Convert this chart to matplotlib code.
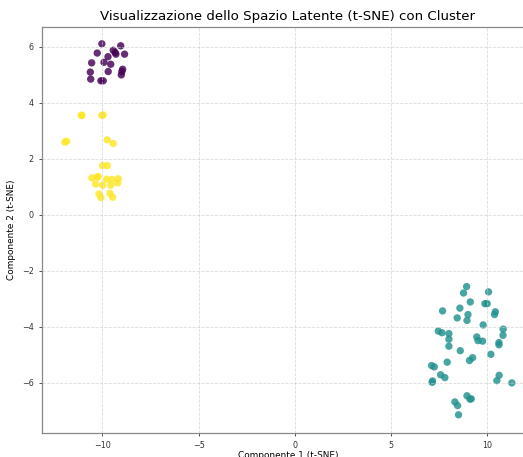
import numpy as np
import matplotlib
matplotlib.use("Agg")
import matplotlib.pyplot as plt

# t-SNE coordinates per cluster
c0_x = [-10.03, -9.05, -9.44, -9.34, -10.27, -8.85, -9.30, -9.71, -10.56, -9.92,
        -9.57, -8.95, -8.99, -9.02, -9.70, -10.63, -10.61, -10.08, -9.96]
c0_y = [6.11, 6.04, 5.88, 5.80, 5.78, 5.74, 5.74, 5.65, 5.43, 5.45,
        5.38, 5.20, 5.12, 5.00, 5.12, 5.10, 4.85, 4.79, 4.79]

c1_x = [8.92, 8.76, 10.06, 9.11, 7.67, 8.57, 9.87, 9.99, 8.99, 8.43,
        8.94, 10.41, 10.37, 9.78, 7.45, 7.64, 8.00, 8.00, 8.00, 9.45,
        9.51, 9.75, 10.82, 10.81, 10.60, 10.60, 8.59, 10.18, 7.91, 9.23,
        9.07, 7.10, 7.24, 7.57, 7.79, 7.15, 7.13, 10.61, 10.49, 11.27,
        8.31, 8.45, 8.94, 9.09, 9.16, 8.50]
c1_y = [-2.56, -2.79, -2.75, -3.11, -3.43, -3.33, -3.17, -3.17, -3.56, -3.68,
        -3.77, -3.46, -3.56, -3.93, -4.15, -4.21, -4.24, -4.44, -4.69, -4.36,
        -4.49, -4.51, -4.08, -4.30, -4.56, -4.64, -4.85, -4.98, -5.26, -5.10,
        -5.20, -5.38, -5.43, -5.71, -5.81, -5.93, -5.98, -5.73, -5.92, -6.00,
        -6.68, -6.81, -6.46, -6.58, -6.57, -7.14]

c2_x = [-11.10, -11.07, -10.03, -9.96, -11.95, -11.86, -9.75, -9.44, -9.99, -9.75,
        -10.55, -10.27, -10.22, -9.78, -9.51, -9.18, -9.21, -10.35, -9.99, -9.57,
        -10.18, -10.08, -9.61, -9.47]
c2_y = [3.55, 3.56, 3.55, 3.57, 2.60, 2.63, 2.68, 2.55, 1.76, 1.76,
        1.32, 1.35, 1.37, 1.27, 1.27, 1.29, 1.14, 1.10, 1.06, 1.06,
        0.75, 0.62, 0.77, 0.63]

x = np.array(c0_x + c1_x + c2_x)
y = np.array(c0_y + c1_y + c2_y)
labels = np.array([0] * len(c0_x) + [1] * len(c1_x) + [2] * len(c2_x))

fig = plt.figure(figsize=(5.23, 4.57), dpi=100)
ax = fig.add_axes([0.0803, 0.0525, 0.9407, 0.8884])

ax.scatter(x, y, c=labels, cmap='viridis', s=28, alpha=0.82, linewidths=0)

ax.set_xlim(-13.14, 12.42)
ax.set_ylim(-7.79, 6.71)
ax.set_xticks([-10, -5, 0, 5, 10])
ax.set_yticks([-6, -4, -2, 0, 2, 4, 6])

ax.set_title('Visualizzazione dello Spazio Latente (t-SNE) con Cluster', fontsize=9.6, pad=5)
ax.set_xlabel('Componente 1 (t-SNE)', fontsize=6.4, labelpad=0.5)
ax.set_ylabel('Componente 2 (t-SNE)', fontsize=6.4, labelpad=4)
ax.tick_params(labelsize=5.8, length=2.5, width=0.6, colors='#333333')
ax.grid(True, linestyle='--', linewidth=0.6, color='#cccccc', alpha=0.7)
for s in ax.spines.values():
    s.set_color('#888888')
    s.set_linewidth(0.9)

fig.savefig('out.png', dpi=100)
